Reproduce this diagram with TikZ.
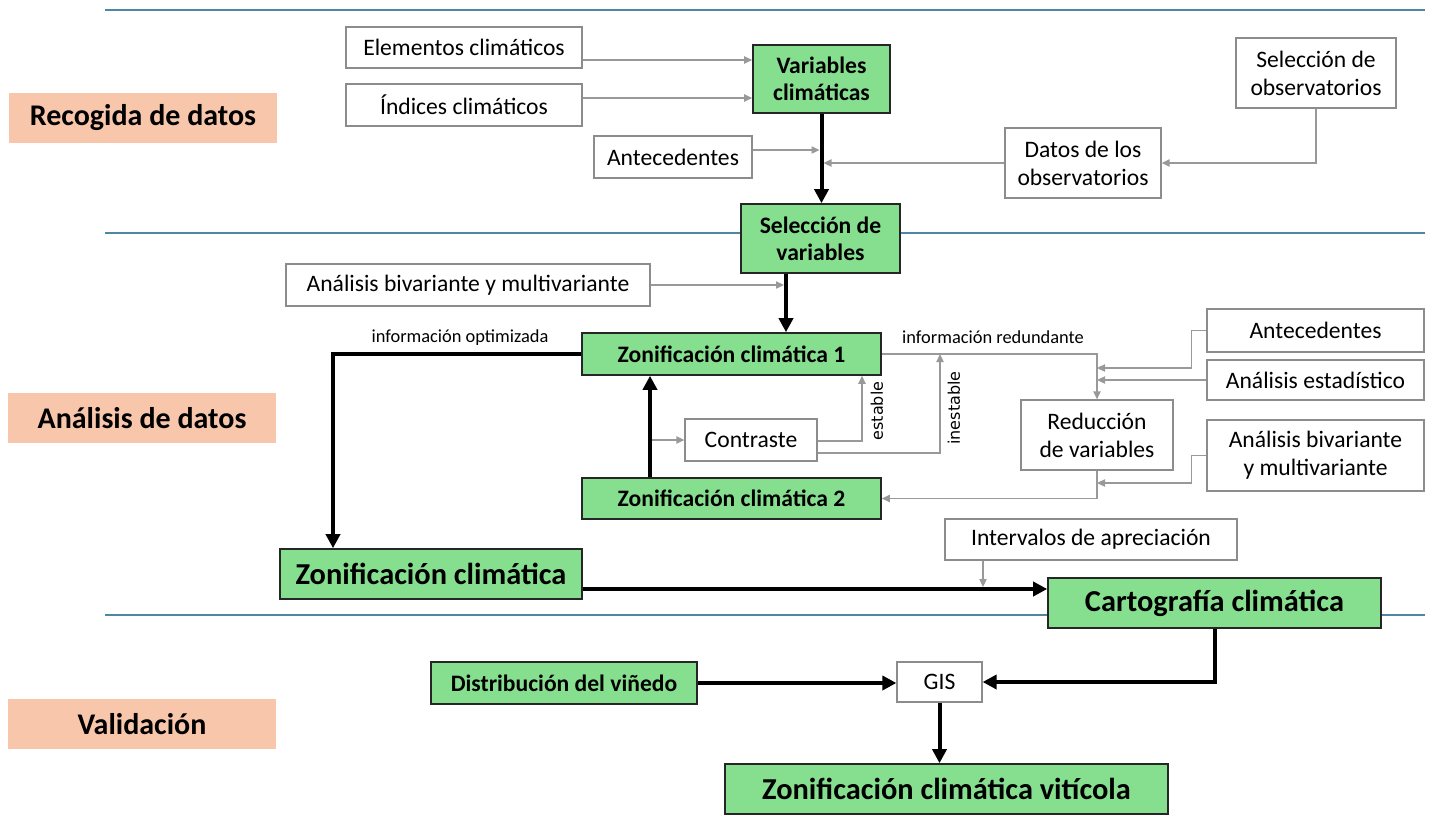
\documentclass[tikz,border=0pt]{standalone}
\usepackage{fontspec}
\setmainfont{Carlito}
\newfontfamily\labelfont{DejaVu Sans}
\usepackage{tikz}
\usetikzlibrary{arrows.meta,positioning,calc}
\definecolor{zongreen}{HTML}{86DF8E}
\definecolor{phasepeach}{HTML}{F7C6AB}
\definecolor{boxgray}{HTML}{8C8C8C}
\definecolor{flowgray}{HTML}{999999}
\definecolor{sectionblue}{HTML}{4D86A6}

\begin{document}
\begin{tikzpicture}[x=0.5pt,y=-0.5pt,
  plainbox/.style={draw=boxgray, line width=0.6pt, fill=white, align=center, inner sep=0pt,
    font=\fontsize{11.8}{14}\selectfont},
  greenbox/.style={draw=black!85, line width=0.8pt, fill=zongreen, align=center, inner sep=0pt,
    font=\fontsize{11.8}{13.6}\selectfont\bfseries},
  biggreen/.style={greenbox, font=\fontsize{15.2}{18}\selectfont\bfseries},
  phasebox/.style={fill=phasepeach, inner sep=0pt, minimum width=134pt, minimum height=25pt,
    font=\fontsize{15}{18}\selectfont\bfseries},
  flowlabel/.style={font=\fontsize{9.2}{11}\selectfont},
  sidelabel/.style={font=\labelfont\fontsize{8}{9}\selectfont, rotate=90},
  thinarrow/.style={draw=flowgray, line width=0.8pt, -{Triangle[length=4pt,width=3.6pt]}},
  thickarrow/.style={draw=black, line width=2pt, -{Triangle[length=7pt,width=7pt]}},
  secline/.style={draw=sectionblue, line width=1.1pt}]
\useasboundingbox (0,0) rectangle (1432,825);

% section rules
\draw[secline] (105,10) -- (1425,10);
\draw[secline] (105,233) -- (1425,233);
\draw[secline] (105,615) -- (1425,615);

% phases
\node[phasebox] (recogida) at (143,118) {Recogida de datos};
\node[phasebox] (analisis) at (142,418) {Análisis de datos};
\node[phasebox] (validacion) at (142,724) {Validación};

% recogida de datos
\node[plainbox, minimum width=118pt, minimum height=20.5pt] (elem) at (464,47.5) {Elementos climáticos};
\node[plainbox, minimum width=118pt, minimum height=21pt] (ind) at (464,105) {Índices climáticos};
\node[plainbox, minimum width=79pt, minimum height=21pt] (ant1) at (673,157) {Antecedentes};
\node[greenbox, minimum width=68.5pt, minimum height=34pt] (varclim) at (821.5,79) {Variables\\climáticas};
\node[plainbox, minimum width=80pt, minimum height=35pt] (selobs) at (1316,73) {Selección de\\observatorios};
\node[plainbox, minimum width=78pt, minimum height=35pt] (datos) at (1083,163) {Datos de los\\observatorios};
\node[greenbox, minimum width=79.5pt, minimum height=34.5pt] (selvar) at (820.5,238.5) {Selección de\\variables};

% analisis de datos
\node[plainbox, minimum width=182pt, minimum height=21pt] (biv1) at (468,285) {Análisis bivariante y multivariante};
\node[greenbox, minimum width=149.5pt, minimum height=21pt] (zon1) at (731.5,354) {Zonificación climática 1};
\node[plainbox, minimum width=66pt, minimum height=21pt] (contr) at (751,440) {Contraste};
\node[greenbox, minimum width=149.5pt, minimum height=20.5pt] (zon2) at (731.5,498.5) {Zonificación climática 2};
\node[plainbox, minimum width=108.5pt, minimum height=21.5pt] (ant2) at (1315.5,330.5) {Antecedentes};
\node[plainbox, minimum width=108.5pt, minimum height=20pt] (estad) at (1315.5,380) {Análisis estadístico};
\node[plainbox, minimum width=76pt, minimum height=35pt] (reduc) at (1097,435) {Reducción\\de variables};
\node[plainbox, minimum width=108.5pt, minimum height=35.5pt] (biv2) at (1315.5,455.5) {Análisis bivariante\\y multivariante};
\node[plainbox, minimum width=146pt, minimum height=20.5pt] (interv) at (1091,539.5) {Intervalos de apreciación};
\node[biggreen, minimum width=151pt, minimum height=25pt] (zonclim) at (431,574) {Zonificación climática};
\node[biggreen, minimum width=166.5pt, minimum height=25pt] (cartog) at (1214.5,603) {Cartografía climática};

% validacion
\node[greenbox, minimum width=133pt, minimum height=21pt] (distrib) at (564,683) {Distribución del viñedo};
\node[plainbox, minimum width=42.5pt, minimum height=20pt] (gis) at (939.5,682) {GIS};
\node[biggreen, minimum width=221.5pt, minimum height=25pt] (zonvit) at (946.5,789) {Zonificación climática vitícola};

% helper levels
\coordinate (yElem) at (0,60);
\coordinate (yInd) at (0,98);
\coordinate (yAnt) at (0,150);
\coordinate (xSel) at (786,0);
\coordinate (xOpt) at (333,0);
\coordinate (xZon) at (650,0);
\coordinate (yEst) at (0,441);
\coordinate (xEst) at (862,0);
\coordinate (yInest) at (0,453);
\coordinate (xInest) at (940,0);
\coordinate (yAnt2) at (0,368);
\coordinate (yBiv2) at (0,483);
\coordinate (yCart) at (0,589);
\coordinate (xInt) at (983,0);

% connectors
\draw[thinarrow] (elem.east |- yElem) -- (varclim.west |- yElem);
\draw[thinarrow] (ind.east |- yInd) -- (varclim.west |- yInd);
\draw[thickarrow] (varclim.south) -- (varclim.south |- selvar.north);
\draw[thinarrow, shorten >=1pt] (ant1.east |- yAnt) -- (varclim.south |- yAnt);
\draw[thinarrow, shorten >=1pt] (datos.west) -- (datos.west -| varclim.south);
\draw[thinarrow] (selobs.south) |- (datos.east);

\draw[thickarrow] (selvar.south -| xSel) -- (zon1.north -| xSel);
\draw[thinarrow, shorten >=1pt] (biv1.east) -- (biv1.east -| xSel);
\draw[thickarrow] (zon1.west) -| (zonclim.north -| xOpt);
\node[flowlabel] (infopt) at (460,338) {información optimizada};
\draw[thickarrow] (zon2.north -| xZon) -- (zon1.south -| xZon);
\draw[thinarrow, shorten <=1pt] (xZon |- contr.west) -- (contr.west);
\draw[thinarrow] (contr.east |- yEst) -| (zon1.south -| xEst);
\node[sidelabel] (estable) at (877,411) {estable};
\draw[thinarrow] (contr.east |- yInest) -| (zon1.east -| xInest);
\node[sidelabel] (inestable) at (954,408) {inestable};
\draw[thinarrow] (zon1.east) -| (reduc.north);
\node[flowlabel] (infored) at (993,337) {información redundante};

\draw[thinarrow] (ant2.west) -- ++(-15,0) |- (reduc.north |- yAnt2);
\draw[thinarrow] (estad.west) -- (estad.west -| reduc.north);
\draw[thinarrow] (biv2.west) -- ++(-15,0) |- (reduc.south |- yBiv2);
\draw[thinarrow] (reduc.south) |- (zon2.east);

\draw[thickarrow] (zonclim.east |- yCart) -- (cartog.west |- yCart);
\draw[thinarrow, shorten >=1pt] (interv.south -| xInt) -- (xInt |- yCart);

\draw[thickarrow] (cartog.south) |- (gis.east);
\draw[thickarrow] (distrib.east) -- (distrib.east -| gis.west);
\draw[thickarrow] (gis.south) -- (gis.south |- zonvit.north);
\end{tikzpicture}
\end{document}
